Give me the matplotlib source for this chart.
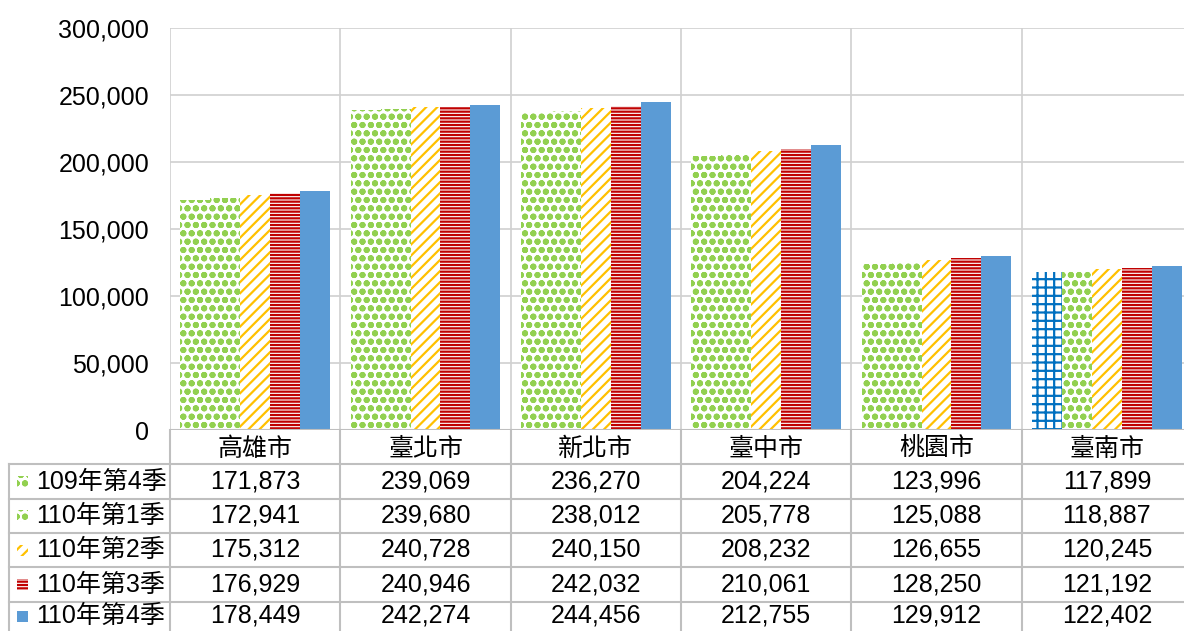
import matplotlib
matplotlib.use("Agg")
import matplotlib.pyplot as plt
from matplotlib.patches import Rectangle
from matplotlib.lines import Line2D
from matplotlib.transforms import blended_transform_factory
import numpy as np

# data
cities = ["高雄市", "臺北市", "新北市", "臺中市", "桃園市", "臺南市"]
seasons = ["109年第4季", "110年第1季", "110年第2季", "110年第3季", "110年第4季"]
q109_4 = [171873, 239069, 236270, 204224, 123996, 117899]
q110_1 = [172941, 239680, 238012, 205778, 125088, 118887]
q110_2 = [175312, 240728, 240150, 208232, 126655, 120245]
q110_3 = [176929, 240946, 242032, 210061, 128250, 121192]
q110_4 = [178449, 242274, 244456, 212755, 129912, 122402]
yticks = [0, 50000, 100000, 150000, 200000, 250000, 300000]

series = [q109_4, q110_1, q110_2, q110_3, q110_4]
# (face, hatch colour, hatch, hatch linewidth)
styles = [
    ("white", "#92D050", "oo", 2.0),
    ("white", "#92D050", "oo", 2.0),
    ("white", "#FFC000", "///", 1.6),
    ("white", "#C00000", "-----", 1.6),
    ("#5B9BD5", "#5B9BD5", None, 1.0),
]

plt.rcParams["font.family"] = ["Liberation Sans", "Noto Sans CJK TC"]
plt.rcParams["hatch.linewidth"] = 1.6
FS = 18
GRID = "#D0D0D0"
LINE = "#BFBFBF"

W, H = 1184, 631
fig = plt.figure(figsize=(W / 100, H / 100), dpi=100)


def fx(px):
    return px / W


def fy(py):
    return 1 - py / H


def set_hlw(patch, lw):
    # per-artist hatch width only exists in newer matplotlib
    if hasattr(patch, "set_hatch_linewidth"):
        patch.set_hatch_linewidth(lw)


# plot area: x 170..1192, y 28..430 (pixels)
ax = fig.add_axes([fx(170), fy(430), fx(1192) - fx(170), fy(28) - fy(430)])

x = np.arange(len(cities))
bw = 0.176
for i, (vals, (face, hc, hatch, hlw)) in enumerate(zip(series, styles)):
    pos = x + (i - 2) * bw
    bars = ax.bar(pos, vals, width=bw, color=face, edgecolor=hc, linewidth=0,
                  hatch=hatch, zorder=3)
    for b in bars:
        set_hlw(b, hlw)
    # Tainan's first bar has its own point format in the source chart
    if i == 0:
        bars[-1].set_edgecolor("#0070C0")
        bars[-1].set_hatch("++")
        set_hlw(bars[-1], 1.6)

ax.set_xlim(-0.5, len(cities) - 0.5)
ax.set_ylim(0, 300000)
ax.set_yticks(yticks)
ax.set_yticklabels([f"{v:,}" for v in yticks], fontsize=FS)
ax.tick_params(axis="y", length=0, pad=15)
ax.set_xticks([])
ax.grid(axis="y", color=GRID, linewidth=1.2, zorder=0)
for b in np.arange(-0.5, len(cities), 1.0):
    ax.axvline(b, color=GRID, linewidth=1.2, zorder=0)
for s in ax.spines.values():
    s.set_visible(False)
ax.axhline(0, color=LINE, linewidth=1.5, zorder=4)

# data table under the plot
tr = blended_transform_factory(ax.transData, fig.transFigure)
row_edges = [430, 464, 499, 533, 567, 602, 640]
yc = (row_edges[0] + row_edges[1]) / 2 + 2
for i, c in enumerate(cities):
    ax.text(i, fy(yc), c, transform=tr, fontsize=FS, ha="center",
            va="center", clip_on=False)

for r, (name, vals, (face, hc, hatch, hlw)) in enumerate(zip(seasons, series, styles)):
    yc = (row_edges[r + 1] + row_edges[r + 2]) / 2
    if r == len(seasons) - 1:
        yc = 616
    for i, v in enumerate(vals):
        ax.text(i, fy(yc), f"{v:,}", transform=tr, fontsize=FS,
                ha="center", va="center", clip_on=False)
    sw = Rectangle((fx(17), fy(yc + 5.5)), fx(11), fy(yc - 5.5) - fy(yc + 5.5),
                   transform=fig.transFigure, facecolor=face, edgecolor=hc,
                   linewidth=0, hatch=hatch)
    set_hlw(sw, hlw)
    fig.patches.append(sw)
    fig.text(fx(36), fy(yc), name, fontsize=FS, ha="left", va="center")

# table lines
for py in row_edges[1:-1]:
    fig.add_artist(Line2D([fx(9), fx(1184)], [fy(py), fy(py)], color=LINE, lw=1.5))
for b in np.arange(-0.5, len(cities), 1.0):
    ax.add_line(Line2D([b, b], [fy(430), fy(640)], transform=tr, color=LINE,
                       lw=1.5, clip_on=False))
fig.add_artist(Line2D([fx(9), fx(9)], [fy(464), fy(640)], color=LINE, lw=1.5))

fig.savefig("out.png", dpi=100)
